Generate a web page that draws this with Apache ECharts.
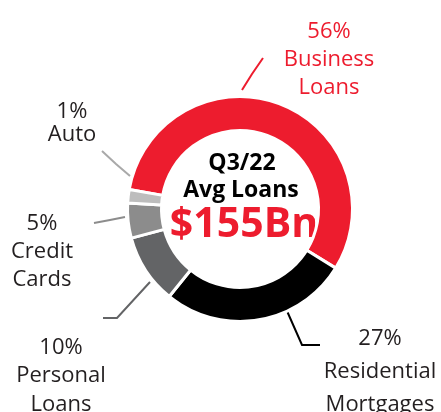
<!DOCTYPE html>
<html>
<head>
<meta charset="utf-8">
<script src="https://cdn.jsdelivr.net/npm/echarts@6/dist/echarts.min.js"></script>
<style>
  html, body { margin: 0; padding: 0; background: #fff; }
  #chart { width: 441px; height: 412px; }
</style>
</head>
<body>
<div id="chart"></div>
<script>
// data
const categories = ['Business\nLoans', 'Residential\nMortgages', 'Personal\nLoans', 'Credit\nCards', 'Auto']
const shares = [56, 27, 10, 5, 1]
const centerLines = ['Q3/22', 'Avg Loans', '$155Bn']

// styling / layout
const sliceColors = ['#ed1c2e', '#000000', '#636466', '#8c8c8c', '#bdbdbd']
const textColors = ['#ed1c2e', '#231f20', '#231f20', '#231f20', '#231f20']
const guideColors = ['#ed1c2e', '#000000', '#636466', '#8c8c8c', '#a9a9a9']
const labelSpots = [
  { x: 329, y: 17.5, lh: 28, line: [[242, 90], [252, 74], [263, 58]] },
  { x: 380, y: 322, lh: 33, line: [[287, 311], [302, 345], [320, 345]] },
  { x: 61, y: 333, lh: 28.5, line: [[150, 282], [117, 318], [103, 318]] },
  { x: 42, y: 209.5, lh: 28, line: [[94, 223], [110, 220], [125, 217]] },
  { x: 72, y: 100, lh: 23, line: [[102, 151], [116, 164], [130, 176]] }
]
const FONT = '"Open Sans", "Noto Sans", sans-serif'

const chart = echarts.init(document.getElementById('chart'))

chart.setOption({
  animation: false,
  series: [{
    type: 'pie',
    center: [240, 209],
    radius: [78.5, 112.5],
    startAngle: 170,
    minAngle: 7,
    silent: true,
    avoidLabelOverlap: false,
    itemStyle: { borderColor: '#ffffff', borderWidth: 3 },
    label: {
      show: true,
      formatter: '{c}%\n{b}',
      fontFamily: FONT,
      fontSize: 22,
      align: 'center'
    },
    labelLine: { show: true, lineStyle: { width: 2 } },
    labelLayout: function (p) {
      const s = labelSpots[p.dataIndex]
      return {
        x: s.x,
        y: s.y,
        align: 'center',
        verticalAlign: 'top',
        labelLinePoints: s.line
      }
    },
    data: categories.map((name, i) => ({
      name: name,
      value: shares[i],
      itemStyle: { color: sliceColors[i] },
      label: { color: textColors[i], lineHeight: labelSpots[i].lh },
      labelLine: { lineStyle: { color: guideColors[i] } }
    }))
  }],
  graphic: [
    {
      type: 'text', x: 242, y: 163.5,
      style: { text: centerLines[0], font: 'bold 23px ' + FONT, fill: '#000', align: 'center', verticalAlign: 'middle' }
    },
    {
      type: 'text', x: 241, y: 190,
      style: { text: centerLines[1], font: 'bold 23px ' + FONT, fill: '#000', align: 'center', verticalAlign: 'middle' }
    },
    {
      type: 'text', x: 244, y: 225,
      style: { text: centerLines[2], font: 'bold 41px ' + FONT, fill: '#ed1c2e', align: 'center', verticalAlign: 'middle' }
    }
  ]
})
</script>
</body>
</html>
